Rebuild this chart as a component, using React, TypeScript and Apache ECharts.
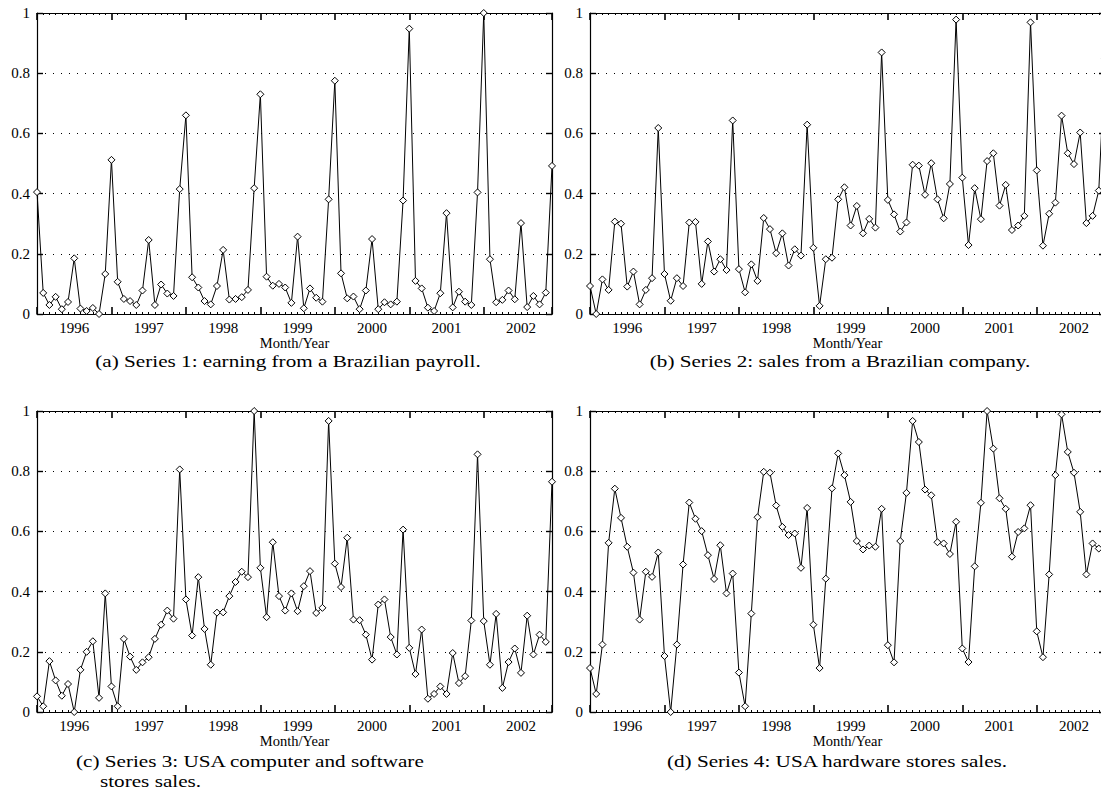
import React, { useEffect, useRef } from "react";
import * as echarts from "echarts";

// ---- Data (normalised values, one per month) ----
const yearLabels = ["1996", "1997", "1998", "1999", "2000", "2001", "2002"];
const yValueTicks = [0, 0.2, 0.4, 0.6, 0.8, 1];

const series1 = [
  0.405, 0.07, 0.03, 0.057, 0.016, 0.04, 0.185, 0.018, 0.01, 0.02, 0.0, 0.133,
  0.512, 0.107, 0.05, 0.043, 0.03, 0.078, 0.246, 0.03, 0.098, 0.068, 0.06, 0.415,
  0.66, 0.122, 0.088, 0.043, 0.032, 0.093, 0.213, 0.048, 0.05, 0.056, 0.08, 0.418,
  0.73, 0.124, 0.094, 0.1, 0.088, 0.037, 0.257, 0.019, 0.085, 0.054, 0.041, 0.381,
  0.775, 0.135, 0.052, 0.058, 0.016, 0.078, 0.249, 0.016, 0.039, 0.032, 0.041, 0.377,
  0.948, 0.11, 0.085, 0.021, 0.01, 0.069, 0.335, 0.022, 0.074, 0.041, 0.03, 0.404,
  1.0, 0.182, 0.039, 0.047, 0.078, 0.049, 0.302, 0.023, 0.06, 0.032, 0.071, 0.492,
];

const series2 = [
  0.093, 0.0, 0.115, 0.08, 0.307, 0.3, 0.091, 0.141, 0.032, 0.08, 0.119, 0.618,
  0.133, 0.044, 0.119, 0.093, 0.304, 0.306, 0.1, 0.241, 0.141, 0.182, 0.146, 0.643,
  0.149, 0.072, 0.165, 0.11, 0.319, 0.282, 0.202, 0.268, 0.161, 0.215, 0.194, 0.629,
  0.22, 0.027, 0.182, 0.187, 0.381, 0.421, 0.294, 0.359, 0.268, 0.316, 0.287, 0.869,
  0.379, 0.331, 0.274, 0.304, 0.496, 0.493, 0.396, 0.501, 0.381, 0.318, 0.432, 0.978,
  0.453, 0.229, 0.418, 0.315, 0.508, 0.534, 0.36, 0.429, 0.279, 0.294, 0.326, 0.969,
  0.477, 0.227, 0.333, 0.37, 0.659, 0.534, 0.498, 0.603, 0.302, 0.326, 0.41, 0.85,
];

const series3 = [
  0.052, 0.019, 0.169, 0.105, 0.054, 0.093, 0.0, 0.14, 0.2, 0.235, 0.047, 0.394,
  0.085, 0.019, 0.243, 0.184, 0.14, 0.165, 0.182, 0.243, 0.29, 0.337, 0.31, 0.806,
  0.374, 0.254, 0.448, 0.276, 0.157, 0.33, 0.331, 0.385, 0.432, 0.466, 0.448, 1.0,
  0.479, 0.315, 0.564, 0.385, 0.337, 0.394, 0.335, 0.418, 0.468, 0.329, 0.346, 0.967,
  0.493, 0.415, 0.579, 0.307, 0.305, 0.257, 0.174, 0.357, 0.374, 0.249, 0.191, 0.606,
  0.213, 0.126, 0.274, 0.044, 0.06, 0.085, 0.06, 0.196, 0.096, 0.119, 0.304, 0.856,
  0.302, 0.157, 0.326, 0.08, 0.166, 0.211, 0.13, 0.32, 0.191, 0.257, 0.233, 0.765,
];

const series4 = [
  0.146, 0.06, 0.224, 0.562, 0.742, 0.645, 0.549, 0.463, 0.307, 0.466, 0.449, 0.53,
  0.186, 0.0, 0.224, 0.49, 0.696, 0.642, 0.601, 0.521, 0.442, 0.554, 0.394, 0.46,
  0.131, 0.019, 0.327, 0.647, 0.798, 0.795, 0.686, 0.615, 0.588, 0.593, 0.479, 0.678,
  0.29, 0.146, 0.443, 0.743, 0.859, 0.787, 0.698, 0.568, 0.54, 0.553, 0.549, 0.675,
  0.222, 0.165, 0.568, 0.728, 0.967, 0.897, 0.739, 0.72, 0.564, 0.56, 0.525, 0.632,
  0.211, 0.166, 0.484, 0.695, 1.0, 0.875, 0.71, 0.675, 0.516, 0.598, 0.61, 0.687,
  0.268, 0.182, 0.457, 0.787, 0.989, 0.864, 0.795, 0.665, 0.457, 0.56, 0.543, 0.54,
];

const allSeries = [series1, series2, series3, series4];

const captionA = "(a) Series 1: earning from a Brazilian payroll.";
const captionB = "(b) Series 2: sales from a Brazilian company.";
const captionC1 = "(c) Series 3: USA computer and software";
const captionC2 = "stores sales.";
const captionD = "(d) Series 4: USA hardware stores sales.";
const axisNameX = "Month/Year";

// ---- Layout ----
const FONT = "'Liberation Serif', 'Times New Roman', serif";
const PLOT_W = 515;
const PLOT_H = 301;
const gridBoxes = [
  { left: 37, top: 13 },
  { left: 590, top: 13 },
  { left: 37, top: 411 },
  { left: 590, top: 411 },
];

function buildOption() {
  const lastIdx = series1.length - 1; // 83 (84 months)
  const yearLabelVals = yearLabels.map((_, k) => k * 12 + 6);

  const grids: any[] = [];
  const xAxes: any[] = [];
  const yAxes: any[] = [];
  const seriesOpts: any[] = [];
  const black = "#000";

  gridBoxes.forEach((g, gi) => {
    grids.push({ left: g.left, top: g.top, width: PLOT_W, height: PLOT_H });
    const makeX = (position: string) => ({
      gridIndex: gi,
      type: "value",
      position,
      min: 0,
      max: lastIdx,
      interval: 12,
      axisLine: { show: true, onZero: false, lineStyle: { color: black, width: 1.2 } },
      axisTick: { show: true, inside: true, length: 7, lineStyle: { color: black, width: 1.6 } },
      minorTick: { show: true, splitNumber: 12, length: 2, lineStyle: { color: black, width: 1 } },
      splitLine: { show: false },
      minorSplitLine: { show: false },
    });
    xAxes.push({
      ...makeX("bottom"),
      axisLabel: {
        show: true,
        customValues: yearLabelVals,
        formatter: (v: number) => yearLabels[Math.round((v - 6) / 12)] ?? "",
        color: black,
        fontFamily: FONT,
        fontSize: 15,
        margin: 6,
      },
      name: axisNameX,
      nameLocation: "middle",
      nameGap: 21,
      nameTextStyle: { color: black, fontFamily: FONT, fontSize: 14.5 },
    });
    xAxes.push({
      ...makeX("top"),
      axisLabel: { show: false },
    });
    const makeY = (position: string) => ({
      gridIndex: gi,
      type: "value",
      position,
      min: yValueTicks[0],
      max: yValueTicks[yValueTicks.length - 1],
      interval: 0.2,
      axisLine: { show: true, onZero: false, lineStyle: { color: black, width: 1.2 } },
      axisTick: { show: true, inside: true, length: 6, lineStyle: { color: black, width: 1.4 } },
    });
    yAxes.push({
      ...makeY("left"),
      axisLabel: {
        show: true,
        color: black,
        fontFamily: FONT,
        fontSize: 15,
        margin: 7,
        formatter: (v: number) => String(Math.round(v * 10) / 10),
      },
      splitLine: { show: true, lineStyle: { color: black, width: 1, type: [1, 7] } },
    });
    yAxes.push({
      ...makeY("right"),
      axisLabel: { show: false },
      splitLine: { show: false },
    });
    seriesOpts.push({
      type: "line",
      xAxisIndex: gi * 2,
      yAxisIndex: gi * 2,
      data: allSeries[gi].map((v, i) => [i, v]),
      symbol: "diamond",
      symbolSize: 7,
      showSymbol: true,
      showAllSymbol: true,
      clip: false,
      lineStyle: { color: black, width: 1 },
      itemStyle: { color: "#fff", borderColor: black, borderWidth: 1 },
      emphasis: { disabled: true },
    });
  });

  const capStyle = (text: string, align: string) => ({
    text,
    fill: "#000",
    font: `17.5px ${FONT}`,
    textAlign: align,
    textVerticalAlign: "middle",
    verticalAlign: "middle",
  });
  const SX = 1.21;
  const graphic = [
    { type: "text", x: 288, y: 361, scaleX: SX, style: capStyle(captionA, "center") },
    { type: "text", x: 840, y: 361, scaleX: SX, style: capStyle(captionB, "center") },
    { type: "text", x: 76, y: 761, scaleX: SX, style: capStyle(captionC1, "left") },
    { type: "text", x: 100, y: 781, scaleX: SX, style: capStyle(captionC2, "left") },
    { type: "text", x: 837, y: 761, scaleX: SX, style: capStyle(captionD, "center") },
  ];

  return {
    animation: false,
    backgroundColor: "#fff",
    grid: grids,
    xAxis: xAxes,
    yAxis: yAxes,
    series: seriesOpts,
    graphic,
  };
}

export default function App() {
  const ref = useRef<HTMLDivElement>(null);
  useEffect(() => {
    if (!ref.current) return;
    const chart = echarts.init(ref.current, undefined, { renderer: "svg" });
    chart.setOption(buildOption() as any);
    return () => chart.dispose();
  }, []);
  return (
    <div
      style={{
        position: "fixed",
        left: 0,
        top: 0,
        width: 1101,
        height: 808,
        overflow: "hidden",
        background: "#fff",
      }}
    >
      <div ref={ref} style={{ width: 1120, height: 808 }} />
    </div>
  );
}
